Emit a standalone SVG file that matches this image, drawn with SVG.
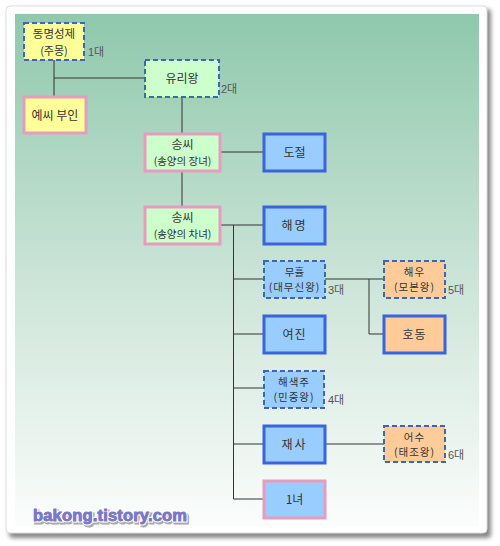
<svg xmlns="http://www.w3.org/2000/svg" width="500" height="546" viewBox="0 0 500 546">
<defs>
<linearGradient id="bg" x1="0" y1="0" x2="0" y2="1">
<stop offset="0" stop-color="#8fc8ac"/>
<stop offset="0.55" stop-color="#cfe6da"/>
<stop offset="1" stop-color="#fbfdfc"/>
</linearGradient>
<filter id="sh" x="-5%" y="-5%" width="110%" height="110%">
<feGaussianBlur stdDeviation="2"/>
</filter>
</defs>
<style>
.n{stroke-width:3}
.d{stroke:#3d66b8;stroke-width:2;stroke-dasharray:5 3}
.s{stroke:#3a63dc}
.p{stroke:#e89cbd}
.yl{fill:#ffff99}
.gr{fill:#ccffcc}
.bl{fill:#99ccff}
.or{fill:#ffcc99}
text{font-family:"Noto Sans CJK KR","Liberation Sans",sans-serif;fill:#333;text-anchor:middle}
.t{font-size:12px}
.st{font-size:10.5px}
.g{font-size:11px;fill:#555;text-anchor:start;font-family:"Liberation Sans","Noto Sans CJK KR",sans-serif}
.c{stroke:#333;stroke-width:1;fill:none}
.wm{font-family:"Liberation Sans",sans-serif;font-weight:bold;font-size:16.5px;text-anchor:start}
</style>
<rect x="9" y="9" width="482" height="529" rx="4" fill="#888" filter="url(#sh)"/>
<rect x="6" y="6" width="481" height="527" rx="4" fill="#fff" stroke="#ddd"/>
<rect x="15" y="14" width="464" height="512" fill="url(#bg)"/>
<g id="connectors" class="c">
<path d="M54 60V97M54 78H145"/>
<path d="M182 97V134"/>
<path d="M220 152H264"/>
<path d="M182 171V207"/>
<path d="M220 225H264"/>
<path d="M233.5 225V499H264"/>
<path d="M233.5 279H264"/>
<path d="M325 279H384M369 279V334H384"/>
<path d="M233.5 334H264"/>
<path d="M233.5 388H264"/>
<path d="M233.5 444H264M325 444H384"/>
</g>
<g id="n-dongmyeong">
<rect x="24" y="23" width="60" height="37" class="yl d"/>
<text x="54" y="38" style="font-size:11.5px">동명성제</text>
<text x="54" y="54.5" style="font-size:11px">(주몽)</text>
<text x="88" y="56" class="g">1대</text>
</g>
<g id="n-yessi">
<rect x="24" y="97" width="62" height="36" class="n yl p"/>
<text x="55" y="119.5" class="t">예씨 부인</text>
</g>
<g id="n-yuri">
<rect x="145" y="60" width="74" height="37" class="gr d"/>
<text x="182" y="83" class="t">유리왕</text>
<text x="221" y="93" class="g">2대</text>
</g>
<g id="n-song1">
<rect x="145" y="134" width="75" height="37" class="n gr p"/>
<text x="182.5" y="149" class="t">송씨</text>
<text x="182.5" y="164.5" class="st">(송양의 장녀)</text>
</g>
<g id="n-dojeol">
<rect x="264" y="134" width="61" height="37" class="n bl s"/>
<text x="294.5" y="156.5" class="t">도절</text>
</g>
<g id="n-song2">
<rect x="145" y="207" width="75" height="37" class="n gr p"/>
<text x="182.5" y="222" class="t">송씨</text>
<text x="182.5" y="237.5" class="st">(송양의 차녀)</text>
</g>
<g id="n-haemyeong">
<rect x="264" y="207" width="61" height="37" class="n bl s"/>
<text x="294.5" y="229.5" class="t" letter-spacing="2">해명</text>
</g>
<g id="n-muhyul">
<rect x="264" y="261" width="61" height="37" class="bl d"/>
<text x="294.5" y="276" class="st">무휼</text>
<text x="294.5" y="291" class="st" letter-spacing="1">(대무신왕)</text>
<text x="328" y="294" class="g">3대</text>
</g>
<g id="n-haeu">
<rect x="384" y="261" width="61" height="37" class="or d"/>
<text x="414.5" y="276" class="st" letter-spacing="1">해우</text>
<text x="414.5" y="291" class="st" letter-spacing="1">(모본왕)</text>
<text x="448" y="294" class="g">5대</text>
</g>
<g id="n-hodong">
<rect x="384" y="316" width="61" height="37" class="n or s"/>
<text x="414.5" y="338.5" class="t" letter-spacing="1">호동</text>
</g>
<g id="n-yeojin">
<rect x="264" y="316" width="61" height="37" class="n bl s"/>
<text x="294.5" y="338.5" class="t" letter-spacing="1">여진</text>
</g>
<g id="n-haesaekju">
<rect x="264" y="371" width="60" height="37" class="bl d"/>
<text x="294" y="386" class="st" letter-spacing="1">해색주</text>
<text x="294" y="401" class="st" letter-spacing="1">(민중왕)</text>
<text x="328" y="404" class="g">4대</text>
</g>
<g id="n-jaesa">
<rect x="264" y="426" width="61" height="37" class="n bl s"/>
<text x="294.5" y="448.5" class="t" letter-spacing="2">재사</text>
</g>
<g id="n-eosu">
<rect x="384" y="426" width="61" height="36" class="or d"/>
<text x="414.5" y="441" class="st" letter-spacing="1">어수</text>
<text x="414.5" y="456" class="st" letter-spacing="1">(태조왕)</text>
<text x="448" y="459" class="g">6대</text>
</g>
<g id="n-daughter">
<rect x="264" y="481" width="61" height="37" class="n bl p"/>
<text x="294.5" y="503.5" class="t">1녀</text>
</g>
<g id="watermark">
<text x="34.5" y="522.5" class="wm" textLength="154" style="fill:#999" stroke="#aaa" stroke-width="3">bakong.tistory.com</text>
<text x="33" y="521" class="wm" textLength="154" style="fill:#7a78c8;paint-order:stroke" stroke="#fff" stroke-width="3">bakong.tistory.com</text>
<text x="33" y="521" class="wm" textLength="154" style="fill:#7a78c8" stroke="#7a78c8" stroke-width="0.8">bakong.tistory.com</text>
</g>
</svg>
